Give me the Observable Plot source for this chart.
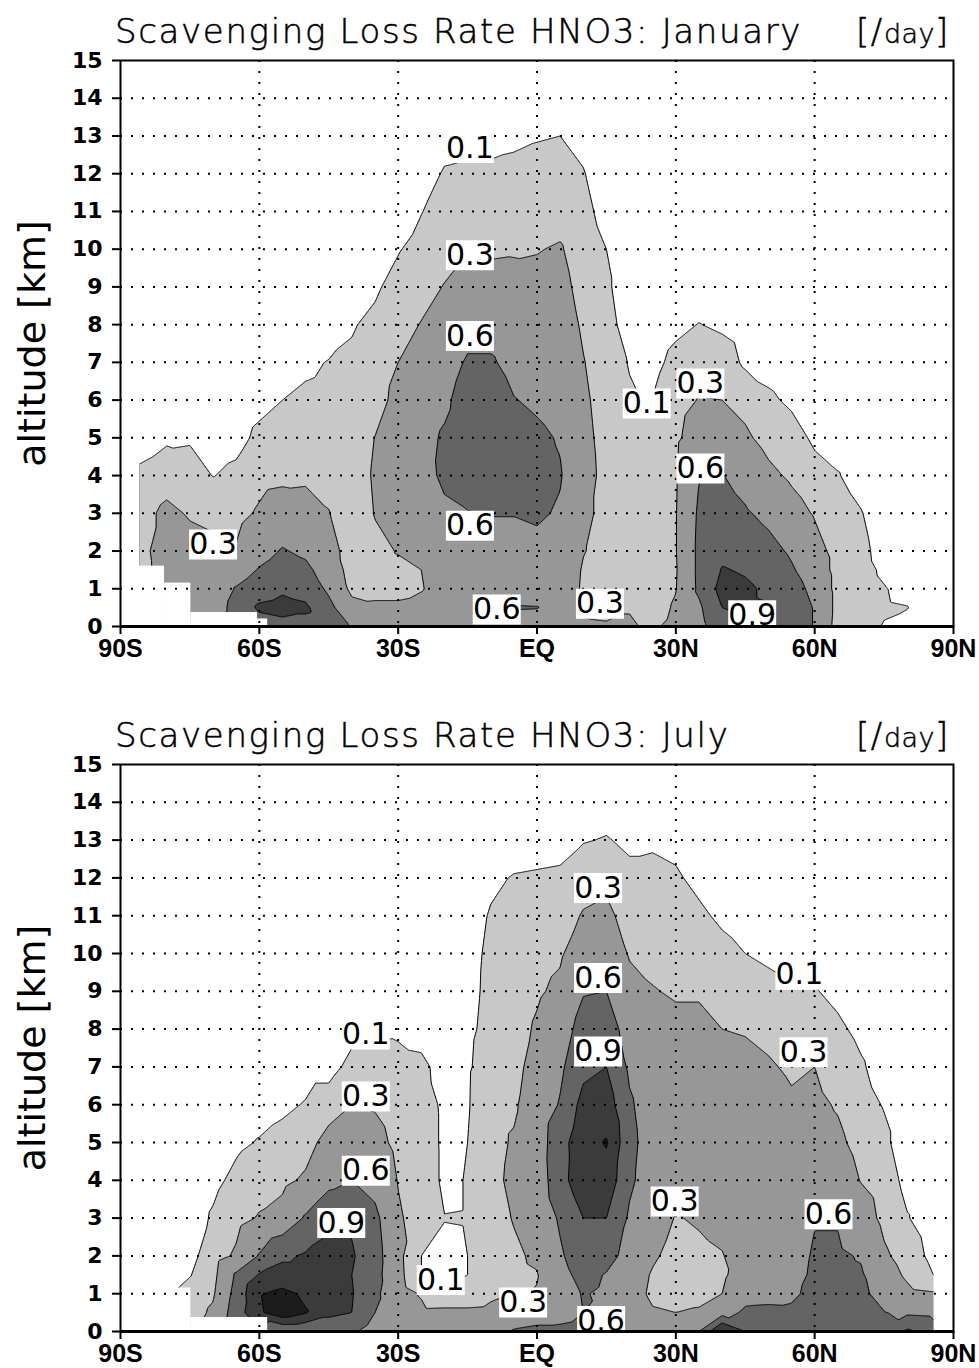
<!DOCTYPE html>
<html><head><meta charset="utf-8">
<script src="https://cdn.jsdelivr.net/npm/d3@7"></script>
<script src="https://cdn.jsdelivr.net/npm/@observablehq/plot@0.6"></script>
<style>
body{margin:0;background:#fff;}
#wrap{position:relative;width:979px;height:1368px;overflow:hidden;background:#fff;}
.panel{position:absolute;left:0;}
.title{position:absolute;font-family:"DejaVu Sans";font-size:34px;line-height:34px;font-weight:200;color:#000;white-space:nowrap;letter-spacing:1.65px;-webkit-text-stroke:0.5px #000;}
.title .sm{font-size:27px;letter-spacing:0.5px;}
svg g[aria-label^="x-axis"] text{font:bold 25px "Liberation Sans";}
svg g[aria-label^="y-axis"] text{font:bold 22px "DejaVu Sans";}
svg g[aria-label$="tick"]{stroke-width:2px;}
</style>
</head><body><div id="wrap"></div>
<script>
// ---- data ----
const LAT = [-86,-80,-75,-70,-65,-60,-55,-50,-45,-40,-35,-30,-25,-20,-15,-10,-5,0,5,10,15,20,25,30,35,40,45,50,55,60,65,70,75,80,86];
const ALT = [0,0.5,1,1.5,2,3,4,5,6,7,8,9,10,11,12,13,14,15];
const THRESHOLDS = [0.1,0.3,0.6,0.9,1.2];
const GRAYS = ["#c8c8c8","#979797","#646464","#3b3b3b","#1c1c1c"];
const LAT_TICKS = [-90,-60,-30,0,30,60,90];
const LAT_LABELS = ["90S","60S","30S","EQ","30N","60N","90N"];
const ALT_TICKS = [0,1,2,3,4,5,6,7,8,9,10,11,12,13,14,15];
const GRID_ALT = [1,2,3,4,5,6,7,8,9,10,11,12,13,14];
const GRID_LAT = [-60,-30,0,30,60];
const NODATA_LAT1 = [-90, 85.8];
const NODATA_LAT2 = [-85.8, 90];

// January scavenging rate [/day], one column per LAT, rows follow ALT
const JAN = [
[0.2,0.2,0.2,0.2,0.22,0.22,0.13,0.03,0,0,0,0,0,0,0,0,0,0],
[0.4,0.4,0.4,0.42,0.42,0.35,0.21,0.07,0,0,0,0,0,0,0,0,0,0],
[0.4,0.4,0.4,0.4,0.38,0.28,0.18,0.08,0,0,0,0,0,0,0,0,0,0],
[0.45,0.45,0.42,0.4,0.35,0.25,0.095,0.02,0,0,0,0,0,0,0,0,0,0],
[0.7,0.7,0.62,0.47,0.32,0.23,0.14,0.045,0,0,0,0,0,0,0,0,0,0],
[0.75,0.95,0.75,0.62,0.5,0.33,0.23,0.14,0.05,0,0,0,0,0,0,0,0,0],
[0.8,1.0,0.85,0.72,0.62,0.42,0.25,0.15,0.1,0.02,0,0,0,0,0,0,0,0],
[0.8,0.95,0.78,0.66,0.55,0.4,0.26,0.17,0.12,0.08,0.01,0,0,0,0,0,0,0],
[0.75,0.68,0.55,0.47,0.4,0.31,0.22,0.17,0.13,0.105,0.04,0,0,0,0,0,0,0],
[0.58,0.38,0.24,0.2,0.19,0.18,0.17,0.16,0.14,0.12,0.09,0.02,0,0,0,0,0,0],
[0.4,0.33,0.25,0.24,0.25,0.31,0.33,0.305,0.2,0.17,0.13,0.08,0.02,0,0,0,0,0],
[0.4,0.33,0.25,0.26,0.31,0.38,0.42,0.42,0.38,0.3,0.22,0.15,0.09,0.02,0,0,0,0],
[0.4,0.35,0.29,0.3,0.36,0.45,0.5,0.52,0.48,0.4,0.31,0.22,0.15,0.095,0.03,0,0,0],
[0.45,0.4,0.37,0.4,0.45,0.55,0.65,0.63,0.55,0.48,0.4,0.31,0.22,0.16,0.115,0.04,0,0],
[0.45,0.42,0.42,0.45,0.5,0.59,0.72,0.75,0.72,0.63,0.5,0.38,0.26,0.18,0.13,0.05,0,0],
[0.45,0.5,0.45,0.47,0.5,0.61,0.75,0.78,0.74,0.63,0.5,0.38,0.27,0.19,0.13,0.05,0,0],
[0.45,0.62,0.45,0.47,0.5,0.61,0.72,0.7,0.61,0.52,0.45,0.37,0.28,0.2,0.14,0.07,0.01,0],
[0.45,0.61,0.45,0.47,0.52,0.64,0.68,0.65,0.56,0.5,0.44,0.36,0.29,0.22,0.15,0.09,0.02,0],
[0.42,0.5,0.45,0.47,0.5,0.57,0.62,0.58,0.5,0.46,0.42,0.37,0.32,0.22,0.16,0.1,0.03,0],
[0.33,0.27,0.27,0.28,0.31,0.35,0.38,0.36,0.34,0.31,0.27,0.23,0.19,0.15,0.11,0.05,0,0],
[0.32,0.25,0.22,0.22,0.23,0.24,0.24,0.23,0.21,0.19,0.16,0.13,0.1,0.04,0,0,0,0],
[0.32,0.29,0.2,0.18,0.17,0.16,0.15,0.14,0.12,0.09,0.03,0,0,0,0,0,0,0],
[0.27,0.2,0.18,0.17,0.17,0.16,0.15,0.13,0.105,0.05,0,0,0,0,0,0,0,0],
[0.36,0.33,0.29,0.28,0.29,0.29,0.28,0.26,0.22,0.15,0.06,0,0,0,0,0,0,0],
[0.5,0.55,0.65,0.66,0.66,0.64,0.59,0.42,0.31,0.2,0.105,0.02,0,0,0,0,0,0],
[0.8,0.9,1.0,0.92,0.82,0.72,0.61,0.44,0.3,0.19,0.07,0,0,0,0,0,0,0],
[0.85,0.95,0.95,0.87,0.78,0.63,0.5,0.34,0.23,0.07,0.02,0,0,0,0,0,0,0],
[0.88,0.92,0.85,0.78,0.69,0.53,0.36,0.22,0.13,0.04,0,0,0,0,0,0,0,0],
[0.8,0.78,0.72,0.63,0.56,0.4,0.26,0.17,0.07,0,0,0,0,0,0,0,0,0],
[0.58,0.58,0.52,0.45,0.39,0.28,0.16,0.07,0,0,0,0,0,0,0,0,0,0],
[0.2,0.22,0.22,0.22,0.22,0.18,0.11,0.03,0,0,0,0,0,0,0,0,0,0],
[0.16,0.17,0.17,0.16,0.15,0.11,0.03,0,0,0,0,0,0,0,0,0,0,0],
[0.09,0.12,0.11,0.07,0.03,0,0,0,0,0,0,0,0,0,0,0,0,0],
[0.05,0.105,0.05,0,0,0,0,0,0,0,0,0,0,0,0,0,0,0],
[0,0,0,0,0,0,0,0,0,0,0,0,0,0,0,0,0,0]
];

// July scavenging rate [/day], one column per LAT, rows follow ALT
const JUL = [
[0,0,0,0,0,0,0,0,0,0,0,0,0,0,0,0,0,0],
[0.05,0.07,0.08,0.06,0.03,0,0,0,0,0,0,0,0,0,0,0,0,0],
[0.2,0.2,0.17,0.09,0.05,0.02,0,0,0,0,0,0,0,0,0,0,0,0],
[0.4,0.34,0.27,0.23,0.19,0.12,0.06,0.02,0,0,0,0,0,0,0,0,0,0],
[0.75,0.75,0.7,0.64,0.34,0.22,0.14,0.07,0.02,0,0,0,0,0,0,0,0,0],
[0.85,1.15,1.18,0.92,0.62,0.32,0.2,0.11,0.04,0,0,0,0,0,0,0,0,0],
[0.6,1.4,1.28,1.0,0.85,0.4,0.24,0.15,0.07,0,0,0,0,0,0,0,0,0],
[0.6,1.22,1.15,1.0,0.93,0.63,0.34,0.2,0.11,0.04,0,0,0,0,0,0,0,0],
[0.6,1.0,1.05,1.05,1.0,0.82,0.52,0.4,0.18,0.04,0,0,0,0,0,0,0,0],
[0.65,0.9,0.92,0.9,0.93,0.86,0.6,0.44,0.3,0.15,0.05,0,0,0,0,0,0,0],
[0.45,0.6,0.66,0.7,0.72,0.67,0.5,0.38,0.28,0.16,0.07,0,0,0,0,0,0,0],
[0.45,0.42,0.4,0.37,0.36,0.33,0.29,0.24,0.19,0.14,0.08,0.02,0,0,0,0,0,0],
[0.42,0.35,0.28,0.1,0.1,0.2,0.23,0.22,0.2,0.13,0.05,0,0,0,0,0,0,0],
[0.4,0.36,0.12,0.05,0.06,0.105,0.06,0.06,0.06,0.05,0.03,0.02,0,0,0,0,0,0],
[0.42,0.36,0.12,0.1,0.1,0.11,0.11,0.1,0.085,0.08,0.07,0.06,0.05,0.03,0,0,0,0],
[0.45,0.38,0.24,0.2,0.21,0.23,0.25,0.24,0.235,0.18,0.145,0.134,0.13,0.113,0.07,0.01,0,0],
[0.62,0.45,0.3,0.26,0.27,0.31,0.34,0.32,0.27,0.24,0.21,0.18,0.16,0.14,0.11,0.02,0,0],
[0.65,0.5,0.31,0.29,0.33,0.38,0.42,0.45,0.43,0.38,0.33,0.27,0.22,0.17,0.12,0.03,0,0],
[0.65,0.52,0.45,0.5,0.56,0.64,0.8,0.78,0.62,0.55,0.45,0.35,0.27,0.19,0.13,0.04,0,0],
[0.68,0.6,0.62,0.7,0.78,0.9,1.08,1.1,1.0,0.82,0.72,0.58,0.45,0.32,0.2,0.09,0.02,0],
[0.66,0.57,0.55,0.58,0.72,0.9,1.1,1.22,1.05,0.9,0.75,0.6,0.48,0.36,0.24,0.11,0.03,0],
[0.58,0.45,0.4,0.42,0.48,0.56,0.65,0.68,0.64,0.55,0.47,0.38,0.28,0.2,0.14,0.07,0,0],
[0.45,0.32,0.26,0.28,0.33,0.4,0.45,0.46,0.44,0.4,0.36,0.31,0.25,0.2,0.14,0.08,0,0],
[0.45,0.3,0.24,0.22,0.23,0.29,0.36,0.4,0.4,0.38,0.35,0.28,0.23,0.18,0.12,0.06,0,0],
[0.6,0.32,0.25,0.24,0.26,0.32,0.38,0.4,0.41,0.39,0.35,0.28,0.19,0.13,0.06,0,0,0],
[1.25,0.48,0.3,0.26,0.29,0.36,0.4,0.42,0.41,0.37,0.3,0.23,0.15,0.07,0,0,0,0],
[0.9,0.65,0.5,0.42,0.4,0.42,0.45,0.45,0.43,0.38,0.28,0.2,0.1,0.03,0,0,0,0],
[0.75,0.66,0.52,0.45,0.43,0.44,0.46,0.45,0.42,0.33,0.23,0.15,0.07,0,0,0,0,0],
[0.7,0.65,0.55,0.48,0.45,0.43,0.43,0.4,0.34,0.26,0.19,0.12,0.05,0,0,0,0,0],
[0.8,0.72,0.68,0.66,0.64,0.58,0.46,0.4,0.35,0.3,0.2,0.11,0.04,0,0,0,0,0],
[0.75,0.7,0.68,0.66,0.64,0.58,0.45,0.35,0.28,0.2,0.13,0.06,0,0,0,0,0,0],
[0.7,0.68,0.66,0.63,0.58,0.43,0.29,0.22,0.16,0.12,0.06,0,0,0,0,0,0,0],
[0.68,0.61,0.5,0.42,0.34,0.24,0.19,0.14,0.09,0.03,0,0,0,0,0,0,0,0],
[0.95,0.55,0.36,0.26,0.2,0.11,0.05,0,0,0,0,0,0,0,0,0,0,0],
[0.7,0.52,0.32,0.09,0.04,0,0,0,0,0,0,0,0,0,0,0,0,0]
];

// topography (no data below surface) steps
const JAN_TOPO_LAT1 = [-86, -80.5, -74.8, -60.4];
const JAN_TOPO_LAT2 = [-80.5, -74.8, -60.4, -58.2];
const JAN_TOPO_ALT  = [1.6, 1.15, 0.37, 0.2];
const JUL_TOPO_LAT1 = [-86, -80.5, -74.8];
const JUL_TOPO_LAT2 = [-80.5, -74.8, -58.2];
const JUL_TOPO_ALT  = [1.6, 1.15, 0.37];

// contour labels
const JAN_LABEL_TEXT = ["0.1","0.3","0.6","0.6","0.1","0.3","0.6","0.9","0.3","0.6","0.3"];
const JAN_LABEL_LAT  = [-14.5,-14.5,-14.5,-14.5,23.7,35.3,35.3,46.5,-70.0,-8.7,13.6];
const JAN_LABEL_ALT  = [12.68,9.84,7.7,2.67,5.91,6.44,4.19,0.3,2.17,0.45,0.6];
const JUL_LABEL_TEXT = ["0.1","0.3","0.6","0.9","0.1","0.3","0.6","0.3","0.6","0.9","0.3","0.1","0.3","0.6"];
const JUL_LABEL_LAT  = [-37.0,-37.0,-37.0,-42.3,-20.8,-3.0,13.85,13.2,13.2,13.2,29.75,56.7,57.6,63.0];
const JUL_LABEL_ALT  = [7.86,6.22,4.25,2.87,1.36,0.77,0.28,11.73,9.35,7.41,3.44,9.44,7.39,3.1];

// ---- drawing ----
const BOX = {draw(ctx) { ctx.rect(-24, -15, 48, 30); }};

function panel(values, tl1, tl2, talt, ltext, llat, lalt, marginTop, marginBottom) {
  const pts = [];
  LAT.forEach((lat, i) => ALT.forEach((alt, j) => pts.push({lat, alt, v: values[i][j]})));
  const topo = tl1.map((d, i) => ({a: d, b: tl2[i], h: talt[i]}));
  const nodata = NODATA_LAT1.map((d, i) => ({a: d, b: NODATA_LAT2[i]}));
  const labels = ltext.map((t, i) => ({t, lat: llat[i], alt: lalt[i]}));
  const fmt = new Map(LAT_TICKS.map((d, i) => [d, LAT_LABELS[i]]));
  const bounds = {x1: -86, x2: 86, y1: 0, y2: 15};
  return Plot.plot({
    width: 979, height: 684,
    marginLeft: 120, marginRight: 26, marginTop, marginBottom,
    style: {fontFamily: "Liberation Sans", fontSize: "23px", fontWeight: "bold", background: "transparent", overflow: "visible"},
    x: {domain: [-90, 90], ticks: LAT_TICKS, tickFormat: d => fmt.get(d), tickSize: 8, tickPadding: 5, label: null},
    y: {domain: [0, 15], ticks: ALT_TICKS, tickSize: 8, tickPadding: 10, label: null},
    color: {type: "threshold", domain: [0.2, 0.45, 0.75, 1.05], range: GRAYS},
    marks: [
      Plot.contour(pts, {x: "lat", y: "alt", fill: "v", thresholds: THRESHOLDS, interpolate: "barycentric",
        ...bounds, pixelSize: 1, stroke: "none"}),
      Plot.contour(pts, {x: "lat", y: "alt", value: "v", thresholds: THRESHOLDS, interpolate: "barycentric",
        ...bounds, pixelSize: 1, fill: "none", stroke: "black", strokeWidth: 1, clip: true}),
      Plot.rect(nodata, {x1: "a", x2: "b", y1: 0, y2: 15, fill: "white"}),
      Plot.rect(topo, {x1: "a", x2: "b", y1: 0, y2: "h", fill: "white"}),
      Plot.ruleY(GRID_ALT, {stroke: "black", strokeWidth: 2, strokeDasharray: "2,9"}),
      Plot.ruleX(GRID_LAT, {stroke: "black", strokeWidth: 2, strokeDasharray: "2,9"}),
      Plot.dot(labels, {x: "lat", y: "alt", symbol: BOX, r: 10, fill: "white", stroke: "none", clip: true}),
      Plot.text(labels, {x: "lat", y: "alt", text: "t", fontFamily: "DejaVu Sans", fontSize: 30, fontWeight: "normal", fill: "black", clip: true}),
      Plot.frame({stroke: "black", strokeWidth: 2}),
      Plot.ruleY([0], {stroke: "black", strokeWidth: 3}),
      Plot.text(["altitude [km]"], {text: d => d, frameAnchor: "left", textAnchor: "middle", lineAnchor: "middle",
        dx: -88, rotate: -90, fontFamily: "DejaVu Sans", fontSize: 38, fontWeight: "normal", fill: "black"})
    ]
  });
}

const wrap = document.getElementById("wrap");
const p1 = panel(JAN, JAN_TOPO_LAT1, JAN_TOPO_LAT2, JAN_TOPO_ALT, JAN_LABEL_TEXT, JAN_LABEL_LAT, JAN_LABEL_ALT, 60, 58);
p1.classList.add("panel"); p1.style.top = "0px";
const p2 = panel(JUL, JUL_TOPO_LAT1, JUL_TOPO_LAT2, JUL_TOPO_ALT, JUL_LABEL_TEXT, JUL_LABEL_LAT, JUL_LABEL_ALT, 80, 37);
p2.classList.add("panel"); p2.style.top = "684px";
wrap.appendChild(p1); wrap.appendChild(p2);

function title(text, top) {
  const t = document.createElement("div");
  t.className = "title"; t.style.left = "115px"; t.style.top = top + "px"; t.textContent = text;
  wrap.appendChild(t);
  const u = document.createElement("div");
  u.className = "title"; u.style.right = "29px"; u.style.top = top + "px";
  u.innerHTML = '[/<span class="sm">day</span>]';
  wrap.appendChild(u);
}
title("Scavenging Loss Rate HNO3: January", 14);
title("Scavenging Loss Rate HNO3: July", 718);
</script>
</body></html>
